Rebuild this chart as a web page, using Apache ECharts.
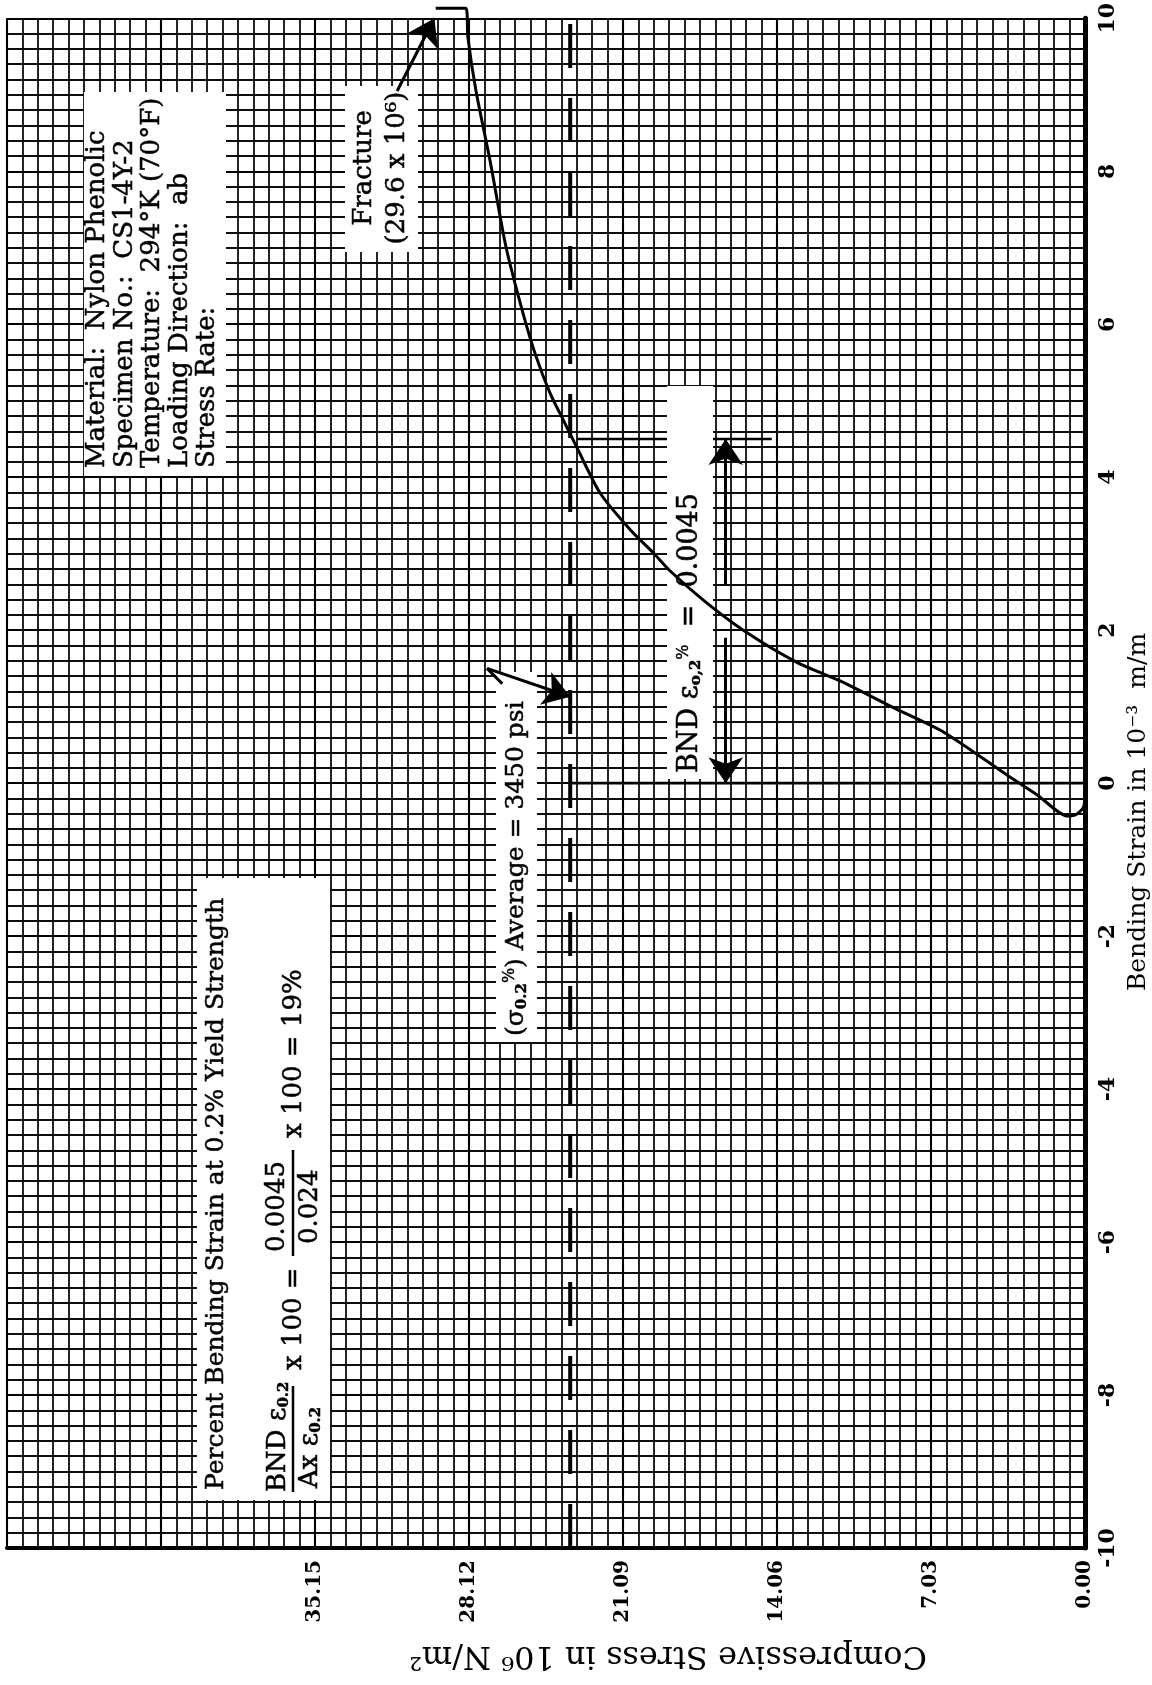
<!DOCTYPE html>
<html><head><meta charset="utf-8">
<script src="https://cdn.jsdelivr.net/npm/echarts@6/dist/echarts.min.js"></script>
<style>html,body{margin:0;padding:0;background:#fff}#c{width:1152px;height:1685px}</style>
</head><body><div id="c"></div>
<script>
// ---- data ----
const stressTicks = [0, 7.03, 14.06, 21.09, 28.12, 35.15];          // 10^6 N/m^2
const strainTicks = [-10, -8, -6, -4, -2, 0, 2, 4, 6, 8, 10];      // 10^-3 m/m
const curveStress = [0, 0.05, 0.4, 0.8, 2.15, 3.53, 6.41, 8.7, 11.13, 13.15, 15.6, 17.41, 18.96, 19.7, 20.75, 22.13, 23.13, 23.82, 24.42, 25.06, 25.65, 26.43, 27.16, 27.8, 28.17, 28.26, 29.64];
const curveStrain = [0, -0.3, -0.41, -0.43, -0.16, 0.10, 0.66, 0.98, 1.33, 1.58, 2.0, 2.39, 2.78, 3.01, 3.31, 3.79, 4.35, 4.75, 5.1, 5.58, 6.14, 7.01, 8.14, 9.05, 9.75, 10.13, 10.13];
const yieldStress = 23.5;                 // (sigma 0.2%) average, dashed line
const yieldLineStrain = [-10, 10.15];
const zeroLineStress = [23.5, 0];         // horizontal line at strain 0
const bndStrain = 4.5;                    // 0.0045
const bndLineStress = [23.2, 14.3];
const arrowStress = 16.4;
const arrowUpStrain = [2.6, 4.5];
const arrowDownStrain = [1.9, 0];
const fracturePointer = [[31.4, 9.05], [29.7, 10.0]];
const sigmaPointerStub = [[26.6, 1.30], [27.3, 1.50]];
const sigmaPointerArrow = [[27.3, 1.50], [23.5, 1.13]];

// ---- chart ----
const chart = echarts.init(document.getElementById('c'), null, {renderer: 'canvas'});
const SERIF = 'DejaVu Serif';

function nearTick(v, ticks) {
  for (const t of ticks) if (Math.abs(v - t) < 0.01) return t;
  return null;
}
function txt(lx, ly, text, font, extra) {
  return {type: 'text', x: lx, y: ly, z: 20,
    style: Object.assign({text: text, font: font, fill: '#000', stroke: '#000', lineWidth: 0.5,
      align: 'left', verticalAlign: 'middle'}, extra || {})};
}
const subRich = {
  s: {font: 'bold 15px ' + SERIF, lineHeight: 13, verticalAlign: 'bottom'},
  p: {font: '16px ' + SERIF, lineHeight: 13, verticalAlign: 'top'}
};
// box in screen coords (left, top, right, bottom); children in rotated local coords
function rbox(l, t, r, b, children) {
  const rect = {type: 'rect', x: 0, y: 0, z: 5, shape: {x: 0, y: 0, width: b - t, height: r - l}, style: {fill: '#fff'}};
  return {type: 'group', x: l, y: b, rotation: Math.PI / 2, children: [rect].concat(children)};
}

const tw = '26px ' + SERIF;
const fw = '26px ' + SERIF;
const graphics = [
  // info box
  rbox(84, 92, 226, 476, [
    txt(8, 13, 'Material:  Nylon Phenolic', tw),
    txt(8, 41, 'Specimen No.:  CS1-4Y-2', tw),
    txt(8, 68, 'Temperature:  294°K (70°F)', tw),
    txt(8, 96, 'Loading Direction:  ab', tw),
    txt(8, 123, 'Stress Rate:', tw)
  ]),
  // fracture box
  rbox(345, 86, 418, 252, [
    txt(84, 19, 'Fracture', '26px ' + SERIF, {align: 'center'}),
    txt(84, 52, '(29.6 x 10⁶)', '26px ' + SERIF, {align: 'center'})
  ]),
  // sigma box
  rbox(496, 672, 537, 1042, [
    txt(6, 20, '(σ{s|0.2}{p|%}) Average = 3450 psi', '25px ' + SERIF, {lineHeight: 28, rich: subRich})
  ]),
  // BND box
  rbox(667, 386, 713, 779, [
    txt(6, 23, 'BND ε{s|o,2}{p|%}  =  0.0045', '27px ' + SERIF, {lineHeight: 28, rich: subRich})
  ]),
  // percent box
  rbox(197, 878, 330, 1500, [
    txt(10, 19, 'Percent Bending Strain at 0.2% Yield Strength', '25px ' + SERIF),
    txt(8, 81, 'BND ε{s|0.2}', fw, {lineHeight: 28, rich: subRich}),
    {type: 'line', z: 20, shape: {x1: 8, y1: 96, x2: 114, y2: 96}, style: {stroke: '#000', lineWidth: 2.5}},
    txt(12, 113, 'Ax ε{s|0.2}', fw, {lineHeight: 28, rich: subRich}),
    txt(130, 97, 'x 100 =', fw),
    txt(248, 80, '0.0045', fw),
    {type: 'line', z: 20, shape: {x1: 244, y1: 96, x2: 350, y2: 96}, style: {stroke: '#000', lineWidth: 2.5}},
    txt(256, 113, '0.024', fw),
    txt(362, 97, 'x 100 = 19%', fw)
  ]),
  // axis titles
  {type: 'text', x: 1138, y: 812, rotation: Math.PI / 2, z: 20,
    style: {text: 'Bending Strain in 10⁻³  m/m', font: '25px ' + SERIF, fill: '#000', align: 'center', verticalAlign: 'middle'}},
  {type: 'text', x: 668, y: 1655, rotation: Math.PI, z: 20,
    style: {text: 'Compressive Stress in 10⁶ N/m²', font: '32px ' + SERIF, fill: '#000', align: 'center', verticalAlign: 'middle'}}
];

const curveData = curveStress.map((s, i) => [s, curveStrain[i]]);

const option = {
  backgroundColor: '#fff',
  animation: false,
  grid: {left: 7, right: 67, top: 14, bottom: 137},
  xAxis: {
    type: 'value', inverse: true, min: 0, max: 49.21, interval: 7.03, position: 'bottom',
    axisLine: {show: true, onZero: false, lineStyle: {color: '#000', width: 4}},
    axisTick: {show: false},
    axisLabel: {
      rotate: 90, margin: 12, color: '#000', fontFamily: SERIF, fontWeight: 'bold', fontSize: 20,
      formatter: v => { const t = nearTick(v, stressTicks); return t === null ? '' : t.toFixed(2); }
    },
    splitLine: {show: true, lineStyle: {color: '#000', width: 2.1}},
    minorTick: {show: false, splitNumber: 10},
    minorSplitLine: {show: true, lineStyle: {color: '#0d0d0d', width: 1.8}}
  },
  yAxis: {
    type: 'value', min: -10, max: 10, interval: 2, position: 'right',
    axisLine: {show: true, onZero: false, lineStyle: {color: '#000', width: 5}},
    axisTick: {show: false},
    axisLabel: {
      rotate: 90, margin: 12, color: '#000', fontFamily: SERIF, fontWeight: 'bold', fontSize: 22,
      showMinLabel: true, showMaxLabel: true,
      formatter: v => { const t = nearTick(v, strainTicks); return t === null ? '' : String(t); }
    },
    splitLine: {show: true, lineStyle: {color: '#000', width: 2.1}},
    minorTick: {show: false, splitNumber: 10},
    minorSplitLine: {show: true, lineStyle: {color: '#0d0d0d', width: 1.8}}
  },
  series: [
    {type: 'line', name: 'zero', z: 3, symbol: 'none', silent: true,
      data: zeroLineStress.map(s => [s, 0]), lineStyle: {color: '#000', width: 2.6}},
    {type: 'line', name: 'bnd', z: 3, symbol: 'none', silent: true,
      data: bndLineStress.map(s => [s, bndStrain]), lineStyle: {color: '#000', width: 2.6}},
    {type: 'line', name: 'yield', z: 8, symbol: 'none', clip: false, silent: true,
      data: yieldLineStrain.map(e => [yieldStress, e]),
      lineStyle: {color: '#000', width: 4, type: [44, 30]}},
    {type: 'line', name: 'curve', z: 10, symbol: 'none', clip: false, silent: true, smooth: 0.25,
      data: curveData, lineStyle: {color: '#000', width: 3}},
    {type: 'lines', coordinateSystem: 'cartesian2d', z: 12, silent: true,
      symbol: ['none', 'arrow'], symbolSize: [16, 26],
      lineStyle: {color: '#000', width: 3, opacity: 1, curveness: 0},
      data: [
        {coords: arrowUpStrain.map(e => [arrowStress, e])},
        {coords: arrowDownStrain.map(e => [arrowStress, e])},
        {coords: fracturePointer},
        {coords: sigmaPointerArrow}
      ]},
    {type: 'lines', coordinateSystem: 'cartesian2d', z: 12, silent: true,
      symbol: ['none', 'none'],
      lineStyle: {color: '#000', width: 3, opacity: 1, curveness: 0},
      data: [{coords: sigmaPointerStub}]}
  ],
  graphic: graphics
};
chart.setOption(option);
</script>
</body></html>
